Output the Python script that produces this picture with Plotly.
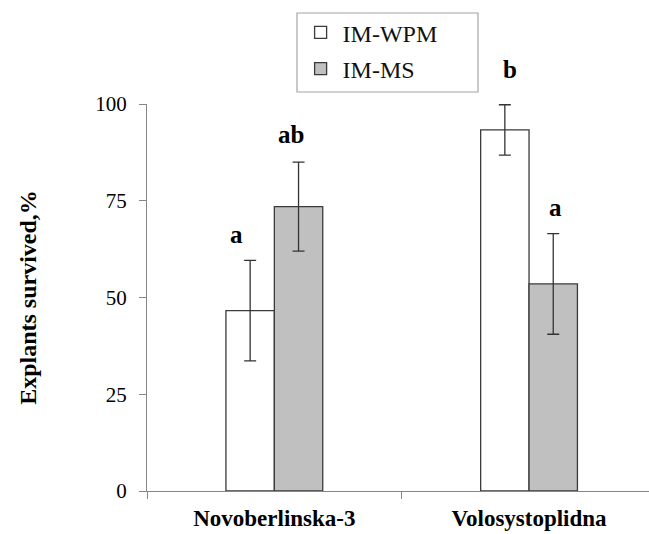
import plotly.graph_objects as go

categories = ["Novoberlinska-3", "Volosystoplidna"]
series_names = ["IM-WPM", "IM-MS"]
wpm_values = [46.6, 93.3]
wpm_errors = [13.0, 6.5]
ms_values = [73.5, 53.5]
ms_errors = [11.5, 13.0]
letters_wpm = ["a", "b"]
letters_ms = ["ab", "a"]
letters_wpm_y = [70.4, 112.8]
letters_ms_y = [96.0, 77.3]
letters_wpm_dx = [-38, -19]
letters_ms_dx = [17, 26]
y_ticks = [0, 25, 50, 75, 100]
y_range = [0, 100]

FONT = "Liberation Serif, Times New Roman, serif"
AX = "#868686"
EDGE = "#3a3a3a"

fig = go.Figure()
fig.add_trace(go.Bar(
    x=categories, y=wpm_values, name=series_names[0],
    marker=dict(color="white", line=dict(color=EDGE, width=1.3)),
    error_y=dict(type="data", array=wpm_errors, color="#333333", thickness=1.3, width=6),
    legendgroup="g1",
))
fig.add_trace(go.Bar(
    x=categories, y=ms_values, name=series_names[1],
    marker=dict(color="#c0c0c0", line=dict(color=EDGE, width=1.3)),
    error_y=dict(type="data", array=ms_errors, color="#333333", thickness=1.3, width=6),
    legendgroup="g2",
))


def to_paper(v):
    return (v - y_range[0]) / (y_range[1] - y_range[0])


for i, c in enumerate(categories):
    fig.add_annotation(x=c, y=to_paper(letters_wpm_y[i]), yref="paper", text=f"<b>{letters_wpm[i]}</b>",
                       showarrow=False, xshift=letters_wpm_dx[i],
                       font=dict(family=FONT, size=25, color="black"))
    fig.add_annotation(x=c, y=to_paper(letters_ms_y[i]), yref="paper", text=f"<b>{letters_ms[i]}</b>",
                       showarrow=False, xshift=letters_ms_dx[i],
                       font=dict(family=FONT, size=25, color="black"))

# legend frame
fig.add_shape(type="rect", xref="paper", yref="paper",
              x0=0.2988, x1=0.6594, y0=1.031, y1=1.2351,
              line=dict(color="#a6a6a6", width=1.2), fillcolor="rgba(0,0,0,0)", layer="above")

fig.update_layout(
    width=649, height=534,
    margin=dict(l=147, r=0, t=104, b=43),
    paper_bgcolor="white", plot_bgcolor="white",
    barmode="group", bargap=0.62, bargroupgap=0,
    font=dict(family=FONT, size=20, color="black"),
    showlegend=True,
    legend=dict(
        x=0.302, y=1.242, xanchor="left", yanchor="top",
        borderwidth=0, bgcolor="rgba(0,0,0,0)",
        font=dict(family=FONT, size=24, color="#111111"),
        traceorder="grouped", tracegroupgap=2,
        itemwidth=34,
    ),
    xaxis=dict(
        range=[-0.5, 1.471], showline=True, linecolor=AX, linewidth=1.3,
        ticks="outside", tickson="boundaries", ticklen=7, tickcolor=AX, tickwidth=1.3,
        tickfont=dict(family=FONT, size=23, color="black", weight="bold"),
        ticklabelstandoff=6,
        showgrid=False, zeroline=False, fixedrange=True,
    ),
    yaxis=dict(
        range=y_range, tickvals=y_ticks, showline=True, linecolor=AX, linewidth=1.3,
        ticks="outside", ticklen=7, tickcolor=AX, tickwidth=1.3,
        tickfont=dict(family=FONT, size=21, color="black"),
        ticklabelstandoff=8,
        showgrid=False, zeroline=False, fixedrange=True,
        title=dict(text="<b>Explants survived,%</b>", standoff=51,
                   font=dict(family=FONT, size=24, color="black")),
    ),
)

fig.write_html("out.html", config={"displayModeBar": False},
               post_script="document.body.style.margin='0px';")
